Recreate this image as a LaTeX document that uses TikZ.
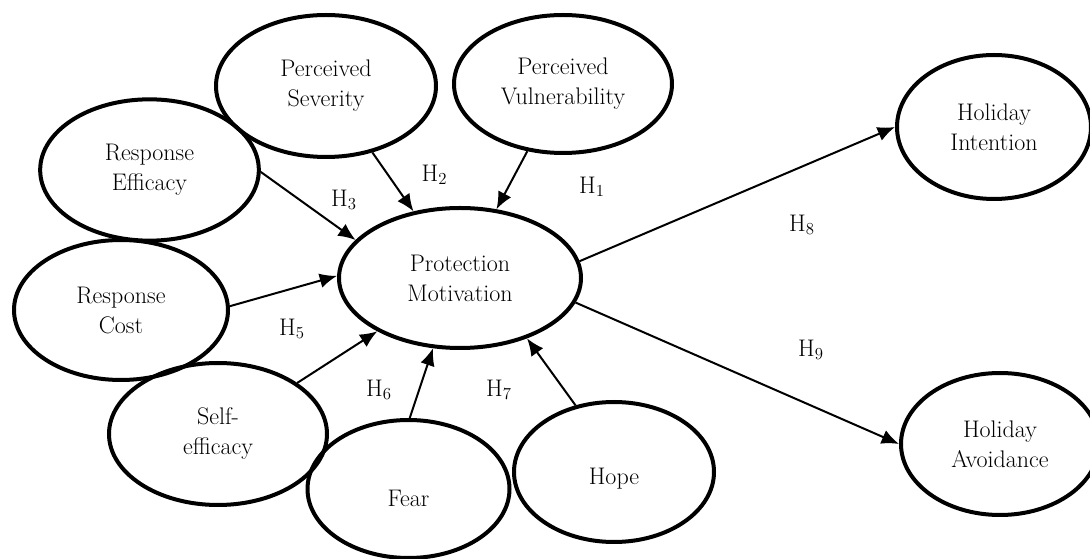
\documentclass[tikz,border=0pt]{standalone}
\usetikzlibrary{shapes.geometric,arrows.meta}

\tikzset{
  construct/.style={ellipse, draw, line width=3pt, inner sep=0pt, align=center,
    minimum width=160pt, minimum height=105pt},
  hyp/.style={line width=1.5pt, -{Latex[length=13pt,width=11pt]}},
}

\begin{document}
\begin{tikzpicture}[x=0.75pt, y=-0.75pt, font=\fontsize{18}{22.5}\selectfont]
  \useasboundingbox (0,0) rectangle (1090,559);
  % constructs
  \node[construct, minimum width=165pt, minimum height=106.5pt] (sev) at (326,86) {Perceived\\Severity};
  \node[construct, minimum width=163.5pt, minimum height=103.5pt] (vul) at (563,84) {Perceived\\Vulnerability};
  \node[construct, minimum width=164pt, minimum height=106pt] (reseff) at (149.5,170) {Response\\Efficacy};
  \node[construct, minimum width=160.5pt] (rescost) at (121,310) {Response\\Cost};
  \node[construct, minimum width=163.5pt, minimum height=106.5pt] (selfeff) at (218,434) {Self-\\efficacy};
  \node[construct, minimum width=151.5pt, minimum height=103.5pt, text height=26pt] (fear) at (408.5,489) {Fear};
  \node[construct, minimum width=150pt, text height=22pt] (hope) at (614,472) {Hope};
  \node[construct, minimum width=181.5pt] (pm) at (460,278) {Protection\\Motivation};
  \node[construct, minimum width=145.5pt, minimum height=108pt] (intent) at (994,127) {Holiday\\Intention};
  \node[construct, minimum width=148.5pt, minimum height=106.5pt] (avoid) at (1000,444) {Holiday\\Avoidance};

  % hypotheses
  \draw[hyp] (vul) -- (pm);
  \draw[hyp] (sev) -- (pm);
  \draw[hyp] (reseff.-1) -- (pm.160);
  \draw[hyp] (rescost.2) -- (pm.179);
  \draw[hyp] (selfeff) -- (pm);
  \draw[hyp] (fear.89) -- (pm.-111);
  \draw[hyp] (hope.120) -- (pm.-42);
  \draw[hyp] (pm.8) -- (intent.180);
  \draw[hyp] (pm.-12) -- (avoid.180);

  \node (h1) at (592,187) {H\textsubscript{1}};
  \node (h2) at (434.5,175) {H\textsubscript{2}};
  \node (h3) at (344,200) {H\textsubscript{3}};
  \node (h5) at (292,329) {H\textsubscript{5}};
  \node (h6) at (379,390) {H\textsubscript{6}};
  \node (h7) at (499,390) {H\textsubscript{7}};
  \node (h8) at (802,225) {H\textsubscript{8}};
  \node (h9) at (811,350) {H\textsubscript{9}};
\end{tikzpicture}
\end{document}
